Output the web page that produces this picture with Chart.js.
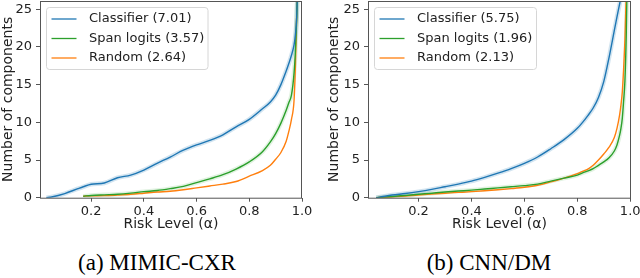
<!DOCTYPE html>
<html>
<head>
<meta charset="utf-8">
<script src="https://cdn.jsdelivr.net/npm/chart.js@4.4.0/dist/chart.umd.min.js"></script>
<style>
  body { margin: 0; background: #fff; width: 640px; height: 278px; position: relative; overflow: hidden; }
  .panel { position: absolute; top: 0; width: 320px; height: 240px; }
  .caption { position: absolute; top: 251px; width: 320px; text-align: center;
             font-family: "Liberation Serif", "DejaVu Serif", serif; font-size: 23px; line-height: 23px; color: #000; }
</style>
</head>
<body>
<div class="panel" style="left:0"><canvas id="mimic" width="320" height="240"></canvas></div>
<div class="panel" style="left:320px"><canvas id="cnn" width="320" height="240"></canvas></div>
<div class="caption" style="left:-3px">(a) MIMIC-CXR</div>
<div class="caption" style="left:329px">(b) CNN/DM</div>
<script>
// risk levels (x) and number of components (y)
const xTicks = [0.2, 0.4, 0.6, 0.8, 1.0];
const yTicks = [0, 5, 10, 15, 20, 25];

// (a) MIMIC-CXR
const alphaMimic = [0.03, 0.05, 0.1, 0.15, 0.17, 0.2, 0.25, 0.3, 0.35, 0.4, 0.45, 0.5, 0.55, 0.6, 0.65, 0.7, 0.75, 0.8, 0.85, 0.88, 0.9, 0.92, 0.94, 0.95, 0.96, 0.97, 0.975, 0.98, 0.985];
const classifierMimic = [0, 0.1, 0.55, 1.2, 1.45, 1.78, 1.95, 2.65, 3.0, 3.67, 4.55, 5.4, 6.3, 7.0, 7.6, 8.35, 9.4, 10.4, 11.8, 12.7, 13.6, 15.0, 16.8, 17.8, 18.9, 20.3, 21.6, 24.0, 30];
const spanMimic = [null, null, null, null, 0.2, 0.3, 0.38, 0.45, 0.6, 0.8, 0.95, 1.2, 1.5, 2.0, 2.5, 3.05, 3.8, 4.75, 6.1, 7.4, 8.5, 9.9, 11.6, 12.6, 13.6, 16.6, 19.4, 24, 30];
const randomMimic = [null, null, null, null, 0.2, 0.25, 0.27, 0.35, 0.45, 0.6, 0.75, 0.85, 1.05, 1.3, 1.55, 1.8, 2.15, 2.85, 3.6, 4.3, 5.1, 6.0, 7.5, 8.8, 10.4, 13.0, 17.5, 24.5, 32];
const labelsMimic = ['Classifier (7.01)', 'Span logits (3.57)', 'Random (2.64)'];

// (b) CNN/DM
const alphaCnn = [0.04, 0.05, 0.1, 0.15, 0.2, 0.25, 0.3, 0.35, 0.4, 0.45, 0.5, 0.55, 0.6, 0.65, 0.7, 0.75, 0.8, 0.82, 0.84, 0.86, 0.88, 0.9, 0.92, 0.94, 0.95, 0.96, 0.965, 0.97, 0.975, 0.98, 0.985, 0.99];
const classifierCnn = [0, 0.05, 0.35, 0.55, 0.8, 1.1, 1.45, 1.8, 2.2, 2.7, 3.25, 3.85, 4.55, 5.4, 6.5, 7.7, 9.2, 10.0, 10.9, 11.9, 13.3, 15.4, 18.6, 22.2, 24.0, 25.7, 26.6, 28, 30, null, null, null];
const spanCnn = [0, 0.02, 0.15, 0.3, 0.45, 0.6, 0.75, 0.88, 1.0, 1.15, 1.3, 1.45, 1.6, 1.8, 2.2, 2.6, 3.0, 3.3, 3.55, 3.85, 4.3, 4.75, 5.3, 6.2, 7.0, 8.3, 9.2, 10.5, 12.8, 15.5, 21.5, 32];
const randomCnn = [0, 0.02, 0.1, 0.22, 0.36, 0.48, 0.6, 0.7, 0.8, 0.92, 1.05, 1.2, 1.38, 1.65, 2.1, 2.6, 3.2, 3.5, 3.8, 4.3, 5.0, 5.8, 6.7, 8.0, 9.2, 11.0, 12.3, 14.0, 17, 21, 27, 34];
const labelsCnn = ['Classifier (5.75)', 'Span logits (1.96)', 'Random (2.13)'];

const colors = ['#1f77b4', '#2ca02c', '#ff7f0e'];
const bands = ['rgba(31,119,180,0.2)', 'rgba(44,160,44,0.14)', null];

// frame around the plot area
const framePlugin = {
  id: 'frame',
  afterDatasetsDraw(chart) {
    const a = chart.chartArea, ctx = chart.ctx;
    ctx.save();
    ctx.strokeStyle = '#555';
    ctx.lineWidth = 1;
    ctx.strokeRect(a.left + 0.5, a.top + 0.5, a.right - a.left - 1, a.bottom - a.top);
    ctx.restore();
  }
};

// matplotlib style legend box inside the axes
const boxLegend = {
  id: 'boxLegend',
  afterDraw(chart, args, opts) {
    const a = chart.chartArea, ctx = chart.ctx;
    const x = a.left + 6.5, y = a.top + 6.5, w = opts.width, h = 62;
    ctx.save();
    ctx.fillStyle = 'rgba(255,255,255,0.8)';
    ctx.strokeStyle = '#d6d6d6';
    ctx.lineWidth = 1;
    ctx.beginPath();
    ctx.roundRect(x, y, w, h, 3);
    ctx.fill();
    ctx.stroke();
    ctx.font = '13px "DejaVu Sans"';
    ctx.textBaseline = 'middle';
    ctx.fillStyle = '#222';
    const rows = chart.data.datasets.filter(d => !d.isBand);
    rows.forEach((d, i) => {
      const ry = y + 11.5 + i * 19.5;
      ctx.strokeStyle = d.borderColor;
      ctx.lineWidth = 1.3;
      ctx.beginPath();
      ctx.moveTo(x + 5, ry);
      ctx.lineTo(x + 30, ry);
      ctx.stroke();
      ctx.fillText(d.label, x + 42.5, ry);
    });
    ctx.restore();
  }
};

function makeChart(id, alpha, series, labels, cfg) {
  const datasets = [];
  series.forEach((vals, i) => {
    const pts = alpha.map((a, j) => ({x: a, y: vals[j]}));
    if (bands[i]) {
      datasets.push({data: pts, isBand: true, borderColor: bands[i], borderWidth: 4.5,
        pointRadius: 0, cubicInterpolationMode: 'monotone', order: 2});
    }
    datasets.push({label: labels[i], data: pts, borderColor: colors[i], borderWidth: 1.4,
      pointRadius: 0, cubicInterpolationMode: 'monotone', order: 1});
  });

  return new Chart(id, {
    type: 'line',
    data: {datasets: datasets},
    options: {
      responsive: false,
      animation: false,
      devicePixelRatio: 1,
      layout: {padding: {top: 1, right: cfg.right, left: 0, bottom: 0}},
      plugins: {
        legend: {display: false},
        tooltip: {enabled: false},
        boxLegend: {width: cfg.legendWidth}
      },
      scales: {
        x: {
          type: 'linear',
          min: cfg.xmin, max: cfg.xmax,
          border: {display: false},
          grid: {drawOnChartArea: false, drawTicks: true, tickLength: 4, color: '#555'},
          ticks: {font: {family: 'DejaVu Sans', size: 13}, color: '#222', padding: 2,
                  maxRotation: 0, callback: v => v.toFixed(1)},
          afterBuildTicks: s => { s.ticks = xTicks.map(v => ({value: v})); },
          afterFit: s => { s.height = 42.3; s.paddingLeft = 0; s.paddingRight = 0; },
          title: {display: true, text: 'Risk Level (α)', color: '#222',
                  font: {family: 'DejaVu Sans', size: 14}, padding: {top: 0, bottom: 7.5}}
        },
        y: {
          min: 0, max: 26.1,
          border: {display: false},
          grid: {drawOnChartArea: false, drawTicks: true, tickLength: 4, color: '#555'},
          ticks: {font: {family: 'DejaVu Sans', size: 13}, color: '#222', padding: 4},
          afterBuildTicks: s => { s.ticks = yTicks.map(v => ({value: v})); },
          afterFit: s => { s.width = cfg.yWidth; s.paddingTop = 0; s.paddingBottom = 0; },
          title: {display: true, text: 'Number of components', color: '#222',
                  font: {family: 'DejaVu Sans', size: 14}, padding: {top: cfg.yTitlePad, bottom: 0}}
        }
      }
    },
    plugins: [framePlugin, boxLegend]
  });
}

makeChart('mimic', alphaMimic, [classifierMimic, spanMimic, randomMimic], labelsMimic,
  {xmin: 0.006, xmax: 1.0, right: 18, yWidth: 40, yTitlePad: 0, legendWidth: 161.5});
makeChart('cnn', alphaCnn, [classifierCnn, spanCnn, randomCnn], labelsCnn,
  {xmin: 0.009, xmax: 1.003, right: 9, yWidth: 48, yTitlePad: 5.6, legendWidth: 162});
</script>
</body>
</html>
